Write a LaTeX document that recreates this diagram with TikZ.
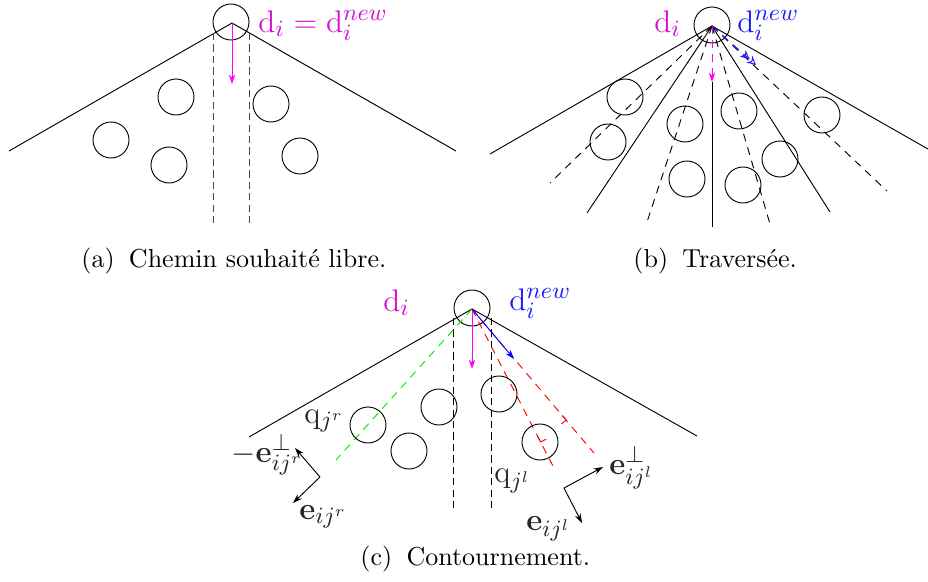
\documentclass[tikz,border=0pt]{standalone}
\usetikzlibrary{arrows.meta,calc}
\definecolor{magA}{RGB}{255,0,255}
\definecolor{magT}{RGB}{210,20,210}
\definecolor{bluT}{RGB}{30,30,255}
\definecolor{grnL}{RGB}{0,235,0}
\definecolor{grayD}{RGB}{70,70,70}
\definecolor{txtD}{RGB}{40,40,40}
\begin{document}
\begin{tikzpicture}[x=0.38462pt,y=-0.38462pt,line width=0.36pt,
  obst/.style={circle,draw,minimum size=13.85pt,inner sep=0pt},
  tipv/.style={-{Stealth[length=3.6pt,width=2.4pt]}},
  lbl/.style={anchor=base west,inner sep=0pt,font=\fontsize{12.5}{15}\selectfont},
  captxt/.style={anchor=base west,inner sep=0pt},
  thin dash/.style={dash pattern=on 2.8pt off 1.6pt},
  ldash/.style={dash pattern=on 3pt off 2.4pt}]
\useasboundingbox (0,0) rectangle (928,582);

% ---------------- (a) ----------------
\node[obst] (ag) at (231,22) {};
\coordinate (A) at (232,23);
\coordinate (Al) at (9,151);
\coordinate (Ar) at (456,151);
\draw (Al) -- (A) -- (Ar);
\coordinate (Ad1s) at (213,33); \coordinate (Ad1e) at (213,227);
\coordinate (Ad2s) at (249,33); \coordinate (Ad2e) at (249,227);
\draw[grayD,thin dash] (Ad1s) -- (Ad1e);
\draw[grayD,thin dash] (Ad2s) -- (Ad2e);
\coordinate (Am) at (232,84);
\draw[magA,tipv] (A) -- (Am);
\node[lbl,text=magT] (la) at (258,32) {$\mathrm{d}_i=\mathrm{d}_i^{new}$};
\node[obst] (a1) at (176,97) {};
\node[obst] (a2) at (111,140) {};
\node[obst] (a3) at (169,165) {};
\node[obst] (a4) at (271,104) {};
\node[obst] (a5) at (300,156) {};
\node[captxt] (capa) at (81,267) {(a)\hspace{0.55em}Chemin souhaité libre.};

% ---------------- (b) ----------------
\node[obst] (bg) at (712,25) {};
\coordinate (B) at (712,26);
\coordinate (Bs1) at (490,154);
\coordinate (Bs2) at (928,149);
\coordinate (Bs3) at (587,213);
\coordinate (Bs4) at (830,212);
\coordinate (Bvs) at (712,82);
\coordinate (Bve) at (712,227);
\draw (Bs1) -- (B) -- (Bs2);
\draw (B) -- (Bs3);
\draw (B) -- (Bs4);
\draw (Bvs) -- (Bve);
\coordinate (Bd1) at (550,183);
\coordinate (Bd2) at (647,222);
\coordinate (Bd3) at (770,224);
\coordinate (Bd4) at (887,191);
\foreach \e in {Bd1,Bd2,Bd3,Bd4} \draw[ldash] (B) -- (\e);
\coordinate (Bm) at (712,82);
\draw[magA,ldash,-{Stealth[length=3.6pt,width=2.4pt]}] (B) -- (Bm);
\coordinate (Bb) at (756,65);
\draw[bluT,ldash,-{Stealth[length=3.4pt,width=3.4pt,open]Stealth[length=3.4pt,width=3.4pt,open]}] (B) -- (Bb);
\node[lbl,text=magT] (lb1) at (654,32) {$\mathrm{d}_i$};
\node[lbl,text=bluT] (lb2) at (737,32) {$\mathrm{d}_i^{new}$};
\node[obst] (b1) at (625,97) {};
\node[obst] (b2) at (608,142) {};
\node[obst] (b3) at (685,124) {};
\node[obst] (b4) at (687,179) {};
\node[obst] (b5) at (739,111) {};
\node[obst] (b6) at (743,185) {};
\node[obst] (b7) at (780,159) {};
\node[obst] (b8) at (822,115) {};
\node[captxt] (capb) at (633,267) {(b)\hspace{0.55em}Traversée.};

% ---------------- (c) ----------------
\node[obst] (cg) at (472,308) {};
\coordinate (C) at (472,309);
\coordinate (Cl) at (249,437);
\coordinate (Cr) at (697,436);
\draw (Cl) -- (C) -- (Cr);
\coordinate (Cd1s) at (453,318); \coordinate (Cd1e) at (453,512);
\coordinate (Cd2s) at (491,318); \coordinate (Cd2e) at (491,512);
\draw[thin dash] (Cd1s) -- (Cd1e);
\draw[thin dash] (Cd2s) -- (Cd2e);
\coordinate (Cg) at (336,460);
\draw[grnL,ldash] (C) -- (Cg);
\coordinate (Cr1) at (555,470);
\coordinate (Cr2) at (594,453);
\draw[red,ldash] (C) -- (Cr1);
\draw[red,ldash] (C) -- (Cr2);
% right-angle marks
\coordinate (P) at (540.6,442);
\coordinate (P1) at (537.9,436.7);
\coordinate (P2) at (545.9,439.3);
\coordinate (F) at (566.1,420);
\coordinate (F1) at (562.2,415.4);
\coordinate (F2) at (561.5,423.9);
\draw[red] (P1) -- (P) -- (P2);
\draw[red] (F1) -- (F) -- (F2);
\coordinate (Cm) at (472,369);
\draw[magA,tipv] (C) -- (Cm);
\coordinate (Cb) at (514,359);
\draw[blue,tipv] (C) -- (Cb);
\node[obst] (qr) at (368,425) {};
\node[obst] (c2) at (409,451) {};
\node[obst] (c3) at (439,407) {};
\node[obst] (c4) at (499,394) {};
\node[obst] (ql) at (540,442) {};
% basis vectors
\coordinate (Or) at (320,477);
\coordinate (Orp) at (295,448);
\coordinate (Ore) at (293,503);
\draw[tipv] (Or) -- (Orp);
\draw[tipv] (Or) -- (Ore);
\coordinate (Ol) at (564,488);
\coordinate (Olp) at (603,467);
\coordinate (Ole) at (582,523);
\draw[tipv] (Ol) -- (Olp);
\draw[tipv] (Ol) -- (Ole);
\node[lbl,text=magT] (lc1) at (383,311) {$\mathrm{d}_i$};
\node[lbl,text=bluT] (lc2) at (509,310) {$\mathrm{d}_i^{new}$};
\node[lbl,text=txtD] (lq1) at (304,423) {$\mathrm{q}_{j^r}$};
\node[lbl,text=txtD] (le1) at (231,462) {$-\mathbf{e}_{ij^r}^{\perp}$};
\node[lbl,text=txtD] (le2) at (299,519) {$\mathbf{e}_{ij^r}$};
\node[lbl,text=txtD] (lq2) at (494,482) {$\mathrm{q}_{j^l}$};
\node[lbl,text=txtD] (le3) at (609,474) {$\mathbf{e}_{ij^l}^{\perp}$};
\node[lbl,text=txtD] (le4) at (526,530) {$\mathbf{e}_{ij^l}$};
\node[captxt] (capc) at (360,565) {(c)\hspace{0.55em}Contournement.};
\end{tikzpicture}
\end{document}
